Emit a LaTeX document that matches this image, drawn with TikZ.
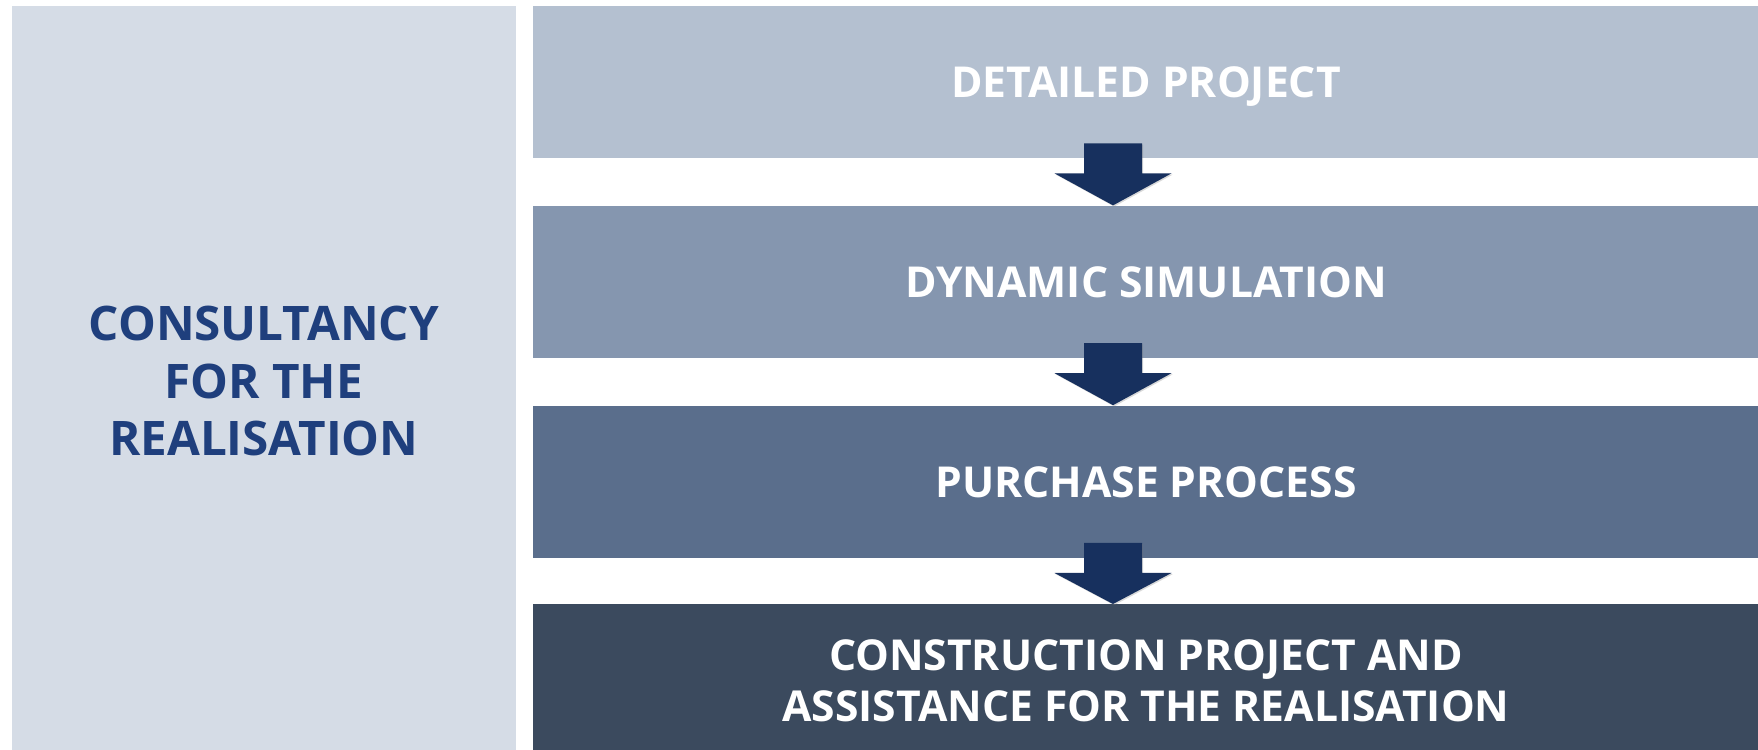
\documentclass[tikz,border=0pt]{standalone}
\usepackage{fontspec}
\setmainfont{Open Sans}
\usepackage{xcolor}
\usepackage{tikz}
\usetikzlibrary{positioning,calc,shadows}
\definecolor{panelgray}{RGB}{213,220,230}
\definecolor{stepone}{RGB}{180,192,208}
\definecolor{steptwo}{RGB}{133,150,175}
\definecolor{stepthree}{RGB}{90,110,140}
\definecolor{stepfour}{RGB}{59,74,94}
\definecolor{arrownavy}{RGB}{23,48,94}
\definecolor{titleblue}{RGB}{31,63,125}
\tikzset{
  stepbox/.style={rectangle,inner sep=0pt,minimum width=613pt,minimum height=76pt,text depth=0pt,
    text=white,font=\fontsize{21.3}{25.5}\selectfont\bfseries,align=center},
  flowarrow/.style={fill=arrownavy,drop shadow={opacity=0.3,shadow xshift=0.6pt,shadow yshift=-0.6pt}}
}
\newcommand{\stepdown}[2]{%
  \fill[flowarrow] ($(#1.south)+(-62,15)$) -- ($(#1.south)+(-4,15)$) -- ($(#1.south)+(-4,-15)$)
    -- ($(#1.south)+(25.5,-15)$) -- ($(#2.north)+(-33,0)$) -- ($(#1.south)+(-91.5,-15)$)
    -- ($(#1.south)+(-62,-15)$) -- cycle;}
\begin{document}
\begin{tikzpicture}[x=0.5pt,y=0.5pt]
	\useasboundingbox (0,0) rectangle (1758,750);
	\node[rectangle,fill=panelgray,inner sep=0pt,minimum width=251.75pt,minimum height=375pt,text depth=0pt,
	  text=titleblue,font=\fontsize{23.8}{28.75}\selectfont\bfseries,align=center]
	  (consult) at (263.75,369) {CONSULTANCY\\FOR THE\\REALISATION};
	\node[stepbox,fill=stepone] (detail) at (1146,668) {DETAILED PROJECT};
	\node[stepbox,fill=steptwo,below=23.5pt of detail] (simul) {DYNAMIC SIMULATION};
	\node[stepbox,fill=stepthree,below=23.5pt of simul] (purch) {PURCHASE PROCESS};
	\node[stepbox,fill=stepfour,below=23pt of purch] (constr) {CONSTRUCTION PROJECT AND\\ASSISTANCE FOR THE REALISATION};
	\stepdown{detail}{simul}
	\stepdown{simul}{purch}
	\stepdown{purch}{constr}
\end{tikzpicture}
\end{document}
